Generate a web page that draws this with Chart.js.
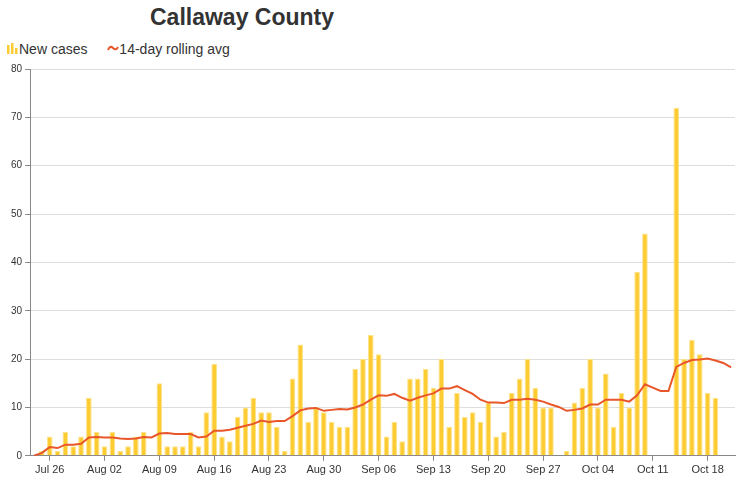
<!DOCTYPE html>
<html>
<head>
<meta charset="utf-8">
<script src="https://cdn.jsdelivr.net/npm/chart.js@4"></script>
<style>
  body { margin: 0; background: #fff; font-family: "Liberation Sans", Arial, sans-serif; }
  #title { position: absolute; left: 150px; top: 4px; font-size: 23px; font-weight: bold; color: #333; }
  #legend { position: absolute; left: 7px; top: 41px; font-size: 14px; color: #333; }
  #legend span { margin-right: 16px; }
  #wrap { position: absolute; left: 0; top: 60px; width: 745px; height: 426px; }
</style>
</head>
<body>
<div id="title">Callaway County</div>
<div id="legend">
  <span><svg width="12" height="11"><rect x="0" y="2" width="2.5" height="9" fill="#fdcb32"/><rect x="4" y="0" width="2.5" height="11" fill="#fdcb32"/><rect x="8" y="5" width="2.5" height="6" fill="#fdcb32"/></svg>New cases</span>
  <span><svg width="12" height="11"><path d="M1 7 Q3 2 6 5 T11 4" stroke="#e8562a" stroke-width="2" fill="none"/></svg>14-day rolling avg</span>
</div>
<div id="wrap"><canvas id="chart"></canvas></div>
<script>
// daily dates Jul 24 - Oct 21
const dates = [];
const start = new Date(2020, 6, 24);
for (let i = 0; i < 90; i++) {
  const d = new Date(start.getTime() + i * 86400000);
  dates.push(d.toLocaleString('en-US', { month: 'short' }) + ' ' + String(d.getDate()).padStart(2, '0'));
}

const newCases = [
  0, 1, 4, 1, 5, 2, 4, 12,
  5, 2, 5, 1, 2, 4, 5, 0, 15, 2, 2, 2, 5, 2, 9, 19, 4, 3, 8, 10, 12, 9, 9, 6, 1, 16, 23, 7, 10, 9, 7,
  6, 6, 18, 20, 25, 21, 4, 7, 3, 16, 16, 18, 14, 20, 6, 13, 8, 9, 7, 11, 4, 5, 13, 16, 20, 14, 10, 10, 0, 1,
  11, 14, 20, 10, 17, 6, 13, 10, 38, 46, 0, 0, 0, 72, 20, 24, 21, 13, 12, null, null
];

const rollingAvg = [
  0, 0.6, 1.8, 1.6, 2.3, 2.3, 2.5, 3.8,
  3.9, 3.8, 3.8, 3.6, 3.5, 3.6, 3.9, 3.8, 4.6, 4.7, 4.5, 4.5, 4.5, 3.8, 4.0, 5.2, 5.2, 5.4, 5.8, 6.2, 6.6, 7.3, 7.0, 7.2, 7.2, 8.2, 9.4, 9.8, 9.9, 9.3, 9.5,
  9.7, 9.6, 10.0, 10.6, 11.6, 12.5, 12.4, 12.8, 12.0, 11.4, 12.0, 12.5, 12.9, 13.9, 13.9, 14.4, 13.6, 12.8, 11.6, 11.0, 11.0, 10.9, 11.6, 11.6, 11.8, 11.6, 11.2, 10.6, 10.1, 9.3,
  9.5, 9.8, 10.6, 10.6, 11.6, 11.6, 11.6, 11.2, 12.5, 14.8, 14.1, 13.4, 13.4, 18.4, 19.2, 19.8, 19.9, 20.1, 19.7, 19.2, 18.3
];

const isLabeled = i => (i - 2) % 7 === 0;

new Chart(document.getElementById('chart'), {
  data: {
    labels: dates,
    datasets: [
      {
        type: 'line',
        label: '14-day rolling avg',
        data: rollingAvg,
        borderColor: '#e8562a',
        borderWidth: 2,
        pointRadius: 0,
        tension: 0,
        fill: false,
        order: 0
      },
      {
        type: 'bar',
        label: 'New cases',
        data: newCases,
        backgroundColor: '#fdcb32',
        borderColor: '#fde38a',
        borderWidth: 1,
        categoryPercentage: 0.8,
        barPercentage: 0.9,
        order: 1
      }
    ]
  },
  options: {
    responsive: true,
    maintainAspectRatio: false,
    animation: false,
    layout: { padding: { left: 8, right: 10, top: 4, bottom: 6 } },
    plugins: { legend: { display: false }, tooltip: { enabled: false } },
    scales: {
      x: {
        offset: true,
        grid: {
          offset: false,
          drawOnChartArea: false,
          tickLength: 5,
          color: ctx => isLabeled(ctx.index) ? '#888' : 'transparent'
        },
        border: { color: '#888' },
        ticks: {
          autoSkip: false,
          maxRotation: 0,
          color: '#333',
          font: { size: 11, family: '"Liberation Sans", Arial, sans-serif' },
          callback: function (v, i) { return isLabeled(i) ? this.getLabelForValue(v) : ''; }
        }
      },
      y: {
        min: 0,
        max: 80,
        ticks: {
          stepSize: 10,
          color: '#333',
          font: { size: 10, family: '"Liberation Sans", Arial, sans-serif' }
        },
        grid: { color: '#ddd', tickLength: 5, tickColor: '#888' },
        border: { color: '#888' }
      }
    }
  }
});
</script>
</body>
</html>
